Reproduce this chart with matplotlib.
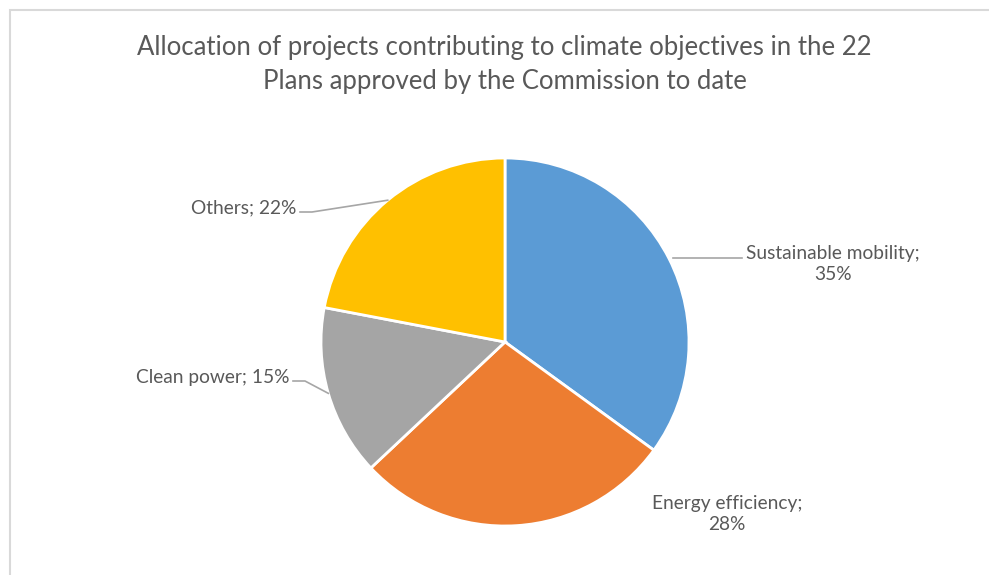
import matplotlib.pyplot as plt
import numpy as np
from matplotlib.patches import Rectangle

# chart data
categories = ['Sustainable mobility', 'Energy efficiency', 'Clean power', 'Others']
shares = [35, 28, 15, 22]
colors = ['#5B9BD5', '#ED7D31', '#A5A5A5', '#FFC000']
title = ('Allocation of projects contributing to climate objectives in the 22\n'
         'Plans approved by the Commission to date')

W, H = 989, 575
TEXT_COLOR = '#595959'
LINE_COLOR = '#A6A6A6'
CENTER = (505, H - 342)
RADIUS = 184

plt.rcParams['font.family'] = ['Lato', 'DejaVu Sans']

fig = plt.figure(figsize=(W / 100, H / 100), dpi=100)
ax = fig.add_axes([0, 0, 1, 1])

wedges, _ = ax.pie(shares, colors=colors, startangle=90, counterclock=False,
                   center=CENTER, radius=RADIUS,
                   wedgeprops={'edgecolor': 'white', 'linewidth': 2})

# pie() resets the view, so fix pixel-like limits afterwards
ax.set_xlim(0, W)
ax.set_ylim(0, H)
ax.set_aspect('equal')
ax.axis('off')

# chart area border (runs off the right and bottom edges)
ax.add_patch(Rectangle((10, -20), W, H - 10 + 20, fill=False,
                       edgecolor='#D9D9D9', linewidth=1.5))

ax.text(W / 2 + 10, H - 64, title, ha='center', va='center', fontsize=18.5,
        color=TEXT_COLOR, linespacing=1.45)


def anchor(w):
    mid = np.deg2rad((w.theta1 + w.theta2) / 2)
    return CENTER[0] + RADIUS * np.cos(mid), CENTER[1] + RADIUS * np.sin(mid)


label_fs = 13.8
# Sustainable mobility
x0, y0 = anchor(wedges[0])
ax.plot([x0 + 4, 742], [y0, y0], color=LINE_COLOR, lw=1.2)
ax.text(833, H - 264, f'{categories[0]};\n{shares[0]}%', ha='center', va='center',
        fontsize=label_fs, color=TEXT_COLOR, linespacing=1.35)

# Energy efficiency
ax.text(727, H - 514, f'{categories[1]};\n{shares[1]}%', ha='center', va='center',
        fontsize=label_fs, color=TEXT_COLOR, linespacing=1.35)

# Clean power
x0, y0 = anchor(wedges[2])
ax.plot([293, 305, x0], [H - 381, H - 381, y0], color=LINE_COLOR, lw=1.2)
ax.text(290, H - 378, f'{categories[2]}; {shares[2]}%', ha='right', va='center',
        fontsize=label_fs, color=TEXT_COLOR)

# Others
x0, y0 = anchor(wedges[3])
ax.plot([300, 312, x0], [H - 212, H - 212, y0], color=LINE_COLOR, lw=1.2)
ax.text(296, H - 208, f'{categories[3]}; {shares[3]}%', ha='right', va='center',
        fontsize=label_fs, color=TEXT_COLOR)

fig.savefig('out.png', dpi=100, facecolor='white')
